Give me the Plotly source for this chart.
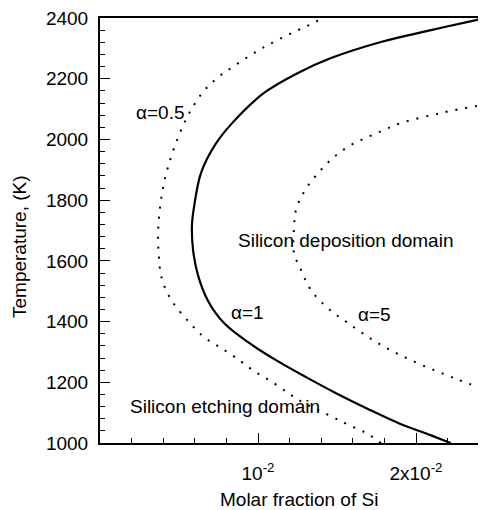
import plotly.graph_objects as go

# alpha = 1 (solid)
a1_x = [0.0222, 0.0219, 0.02076, 0.01905, 0.01696, 0.01494, 0.01304, 0.01114, 0.00937, 0.00785, 0.00684, 0.0062, 0.00589, 0.00582, 0.00595, 0.00639, 0.00728, 0.00842, 0.01038, 0.01253, 0.01462, 0.01778, 0.02095, 0.0238, 0.0245]
a1_T = [1000, 1006, 1029, 1062, 1112, 1164, 1217, 1273, 1332, 1395, 1468, 1553, 1636, 1718, 1777, 1889, 1982, 2057, 2153, 2219, 2268, 2321, 2360, 2393, 2400]

# alpha = 0.5 (dotted)
a05_x = [0.01778, 0.01684, 0.01576, 0.01475, 0.01304, 0.01209, 0.01101, 0.00975, 0.00873, 0.00766, 0.00658, 0.00557, 0.00468, 0.00418, 0.00386, 0.00373, 0.00367, 0.00386, 0.0043, 0.00513, 0.00576, 0.00652, 0.00734, 0.00829, 0.01038, 0.01253, 0.01354, 0.01411]
a05_T = [1000, 1033, 1059, 1085, 1128, 1158, 1197, 1237, 1276, 1313, 1349, 1402, 1458, 1504, 1553, 1613, 1685, 1800, 1909, 2031, 2097, 2156, 2199, 2235, 2304, 2360, 2384, 2400]

# alpha = 5 (dotted)
a5_x = [0.02411, 0.0224, 0.01968, 0.01759, 0.0157, 0.01443, 0.01335, 0.01272, 0.01228, 0.01228, 0.0124, 0.01291, 0.0138, 0.01481, 0.01589, 0.01696, 0.01797, 0.01905, 0.02158, 0.02411]
a5_T = [1181, 1214, 1273, 1329, 1395, 1444, 1504, 1570, 1626, 1711, 1767, 1827, 1889, 1942, 1982, 2008, 2031, 2054, 2087, 2113]

x_tickvals = [0.01, 0.02]
x_ticktext = ["10<sup>-2</sup>", "2x10<sup>-2</sup>"]
y_tickvals = [1000, 1200, 1400, 1600, 1800, 2000, 2200, 2400]

FONT = "Liberation Sans, Arial, sans-serif"

fig = go.Figure()
fig.add_trace(go.Scatter(x=a05_x, y=a05_T, mode="lines", line=dict(color="black", width=2, dash="2px,8px", shape="spline", smoothing=1), showlegend=False))
fig.add_trace(go.Scatter(x=a5_x, y=a5_T, mode="lines", line=dict(color="black", width=2, dash="2px,8px", shape="spline", smoothing=1), showlegend=False))
fig.add_trace(go.Scatter(x=a1_x, y=a1_T, mode="lines", line=dict(color="black", width=2.2, shape="spline", smoothing=1), showlegend=False))

# page has an 8px body margin; figure coordinates = reference pixels - 8
OFF = 8
W, H = 486 - OFF, 510 - OFF
L, R, T, B = 100 - OFF, 0, 18 - OFF, 67


def px(xr, yr):
    return ((xr - OFF) - L) / (W - L - R), 1 - ((yr - OFF) - T) / (H - T - B)


annots = [
    (160, 112, "α=0.5"),
    (247, 312, "α=1"),
    (374, 314, "α=5"),
    (345, 240, "Silicon deposition domain"),
    (225, 406, "Silicon etching domain"),
]
for xr, yr, txt in annots:
    ax, ay = px(xr, yr)
    fig.add_annotation(x=ax, y=ay, xref="paper", yref="paper", text=txt, showarrow=False,
                       font=dict(family=FONT, size=19, color="black"), xanchor="center", yanchor="middle")

ax, ay = px(299, 500)
fig.add_annotation(x=ax, y=ay, xref="paper", yref="paper", text="Molar fraction of Si", showarrow=False,
                   font=dict(family=FONT, size=19, color="black"), xanchor="center", yanchor="middle")
ax, ay = px(19, 247)
fig.add_annotation(x=ax, y=ay, xref="paper", yref="paper", text="Temperature, (K)", textangle=-90, showarrow=False,
                   font=dict(family=FONT, size=19, color="black"), xanchor="center", yanchor="middle")

fig.update_layout(
    width=W, height=H,
    margin=dict(l=L, r=R, t=T, b=B, autoexpand=False),
    plot_bgcolor="white", paper_bgcolor="white",
    font=dict(family=FONT, size=19, color="black"),
    xaxis=dict(range=[0, 0.02443], tickvals=x_tickvals, ticktext=x_ticktext, ticks="inside", ticklen=10,
               tickwidth=1.2, tickcolor="black", showline=True, linecolor="black", linewidth=2, mirror=True,
               showgrid=False, zeroline=False, ticklabelstandoff=12, ticklabeloverflow="allow",
               minor=dict(dtick=0.002, tick0=0, ticks="inside", ticklen=5, tickcolor="black", tickwidth=1.2, showgrid=False)),
    yaxis=dict(range=[1000, 2400], tickvals=y_tickvals, ticks="inside", ticklen=10, tickwidth=1.2, tickcolor="black",
               showline=True, linecolor="black", linewidth=2, showgrid=False, zeroline=False, ticklabelstandoff=6,
               ticklabeloverflow="allow",
               minor=dict(dtick=40, tick0=1000, ticks="inside", ticklen=5, tickcolor="black", tickwidth=1.2, showgrid=False)),
)

fig.write_html("out.html")
